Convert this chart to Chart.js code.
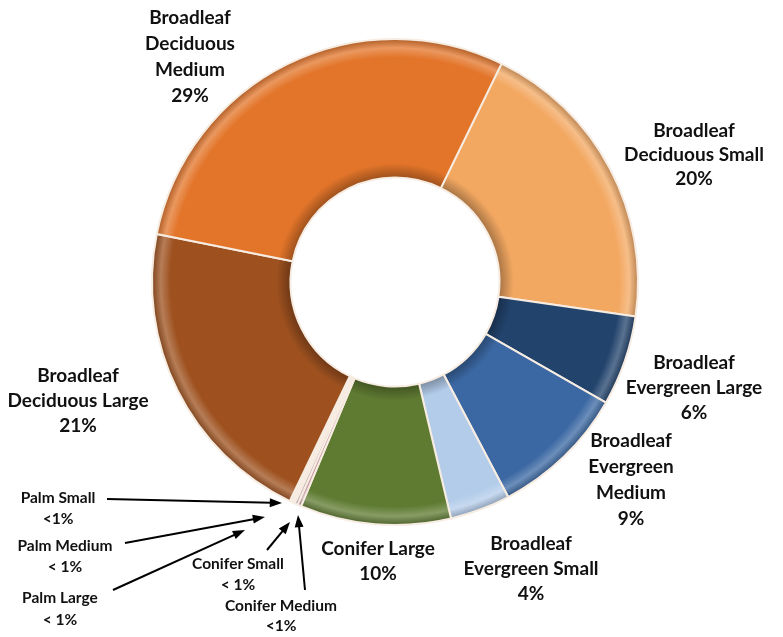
<!DOCTYPE html>
<html>
<head>
<meta charset="utf-8">
<script src="https://cdn.jsdelivr.net/npm/chart.js@4.4.0/dist/chart.umd.min.js"></script>
<style>
html, body { margin: 0; padding: 0; background: #fff; }
#wrap { width: 783px; height: 637px; position: relative; }
</style>
</head>
<body>
<div id="wrap"><canvas id="grafico"></canvas></div>
<script>
// categorie in senso orario, partendo da Broadleaf Deciduous Small
var categorie = [
    'Broadleaf Deciduous Small', 'Broadleaf Evergreen Large', 'Broadleaf Evergreen Medium',
    'Broadleaf Evergreen Small', 'Conifer Large', 'Conifer Medium', 'Conifer Small',
    'Palm Large', 'Palm Medium', 'Palm Small', 'Broadleaf Deciduous Large', 'Broadleaf Deciduous Medium'
];
// percentuali (le piccole sono < 1%)
var valori = [20, 6, 9, 4, 10, 0.25, 0.2, 0.12, 0.12, 0.12, 21, 29];
var percentuali = ['20%', '6%', '9%', '4%', '10%', '<1%', '< 1%', '< 1%', '< 1%', '<1%', '21%', '29%'];
// testo delle etichette, una riga per elemento
var righeEtichette = [
    ['Broadleaf', 'Deciduous Small'],
    ['Broadleaf', 'Evergreen Large'],
    ['Broadleaf', 'Evergreen', 'Medium'],
    ['Broadleaf', 'Evergreen Small'],
    ['Conifer Large'],
    ['Conifer Medium'],
    ['Conifer Small'],
    ['Palm Large'],
    ['Palm Medium'],
    ['Palm Small'],
    ['Broadleaf', 'Deciduous Large'],
    ['Broadleaf', 'Deciduous', 'Medium']
];
var colori = ['#F3A862', '#22436C', '#3B68A3', '#B3CCEA', '#5F7B32', '#C9A0A8', '#BFA7AD',
    '#D3B3B8', '#C6A2A8', '#CFAEB3', '#9E511F', '#E3752A'];

// layout delle etichette: centro x, y della prima riga, passo riga, grandezza font
var posEtichette = [
    [694, 131, 24, 19], [694, 363, 25, 19], [631, 441, 26, 19], [531, 544, 25, 19],
    [378, 549, 25, 19], [281, 606, 20, 15.5], [238, 564, 21, 15.5], [60, 598, 22, 15.5],
    [65, 546, 21, 15.5], [58, 498, 21, 15.5], [78, 376, 25, 19], [190, 18, 26, 19]
];
// frecce per le fette piccole: [indice, x0, y0, x1, y1]
var frecce = [
    [9, 107, 499, 282, 503],
    [8, 125, 543, 265, 517],
    [7, 113, 590, 245, 530],
    [6, 267, 550, 290, 522],
    [5, 305, 590, 298, 515]
];

function schiarisci(hex, f) {
    var n = parseInt(hex.slice(1), 16);
    var r = (n >> 16) & 255, g = (n >> 8) & 255, b = n & 255;
    function m(c) {
        c = f >= 0 ? c + (255 - c) * f : c * (1 + f);
        return Math.round(Math.max(0, Math.min(255, c)));
    }
    return 'rgb(' + m(r) + ',' + m(g) + ',' + m(b) + ')';
}

function sfumatura(context) {
    var chart = context.chart;
    var a = chart.chartArea;
    var base = colori[context.dataIndex];
    if (!a) return base;
    var cx = (a.left + a.right) / 2, cy = (a.top + a.bottom) / 2;
    var r = Math.min(a.right - a.left, a.bottom - a.top) / 2;
    var g = chart.ctx.createRadialGradient(cx, cy, r * 0.43, cx, cy, r);
    g.addColorStop(0, schiarisci(base, -0.3));
    g.addColorStop(0.1, base);
    g.addColorStop(0.86, base);
    g.addColorStop(0.93, schiarisci(base, 0.25));
    g.addColorStop(1, schiarisci(base, -0.25));
    return g;
}

var pluginEtichette = {
    id: 'etichette',
    afterDraw: function(chart) {
        var ctx = chart.ctx;
        ctx.save();
        ctx.fillStyle = '#111';
        ctx.textAlign = 'center';
        ctx.textBaseline = 'middle';
        for (var i = 0; i < categorie.length; i++) {
            var p = posEtichette[i];
            var righe = righeEtichette[i].concat([percentuali[i]]);
            ctx.font = 'bold ' + p[3] + 'px Lato, "Open Sans", sans-serif';
            for (var j = 0; j < righe.length; j++) {
                ctx.fillText(righe[j], p[0], p[1] + j * p[2]);
            }
        }
        // frecce
        ctx.strokeStyle = '#000';
        ctx.fillStyle = '#000';
        ctx.lineWidth = 2;
        for (var k = 0; k < frecce.length; k++) {
            var f = frecce[k];
            var ang = Math.atan2(f[4] - f[2], f[3] - f[1]);
            var len = 13;
            ctx.beginPath();
            ctx.moveTo(f[1], f[2]);
            ctx.lineTo(f[3] - Math.cos(ang) * len * 0.8, f[4] - Math.sin(ang) * len * 0.8);
            ctx.stroke();
            ctx.beginPath();
            ctx.moveTo(f[3], f[4]);
            ctx.lineTo(f[3] - Math.cos(ang - 0.35) * len, f[4] - Math.sin(ang - 0.35) * len);
            ctx.lineTo(f[3] - Math.cos(ang + 0.35) * len, f[4] - Math.sin(ang + 0.35) * len);
            ctx.closePath();
            ctx.fill();
        }
        ctx.restore();
    }
};

var ctx = document.getElementById('grafico');
var chart = new Chart(ctx, {
    type: 'doughnut',
    data: {
        labels: categorie,
        datasets: [{
            data: valori,
            backgroundColor: sfumatura,
            borderColor: '#f6ece2',
            borderWidth: 2
        }]
    },
    options: {
        responsive: true,
        maintainAspectRatio: false,
        animation: false,
        rotation: 26,
        cutout: '43%',
        layout: { padding: { top: 38, bottom: 111, left: 150, right: 143 } },
        plugins: {
            legend: { display: false },
            tooltip: { enabled: false }
        }
    },
    plugins: [pluginEtichette]
});
</script>
</body>
</html>
